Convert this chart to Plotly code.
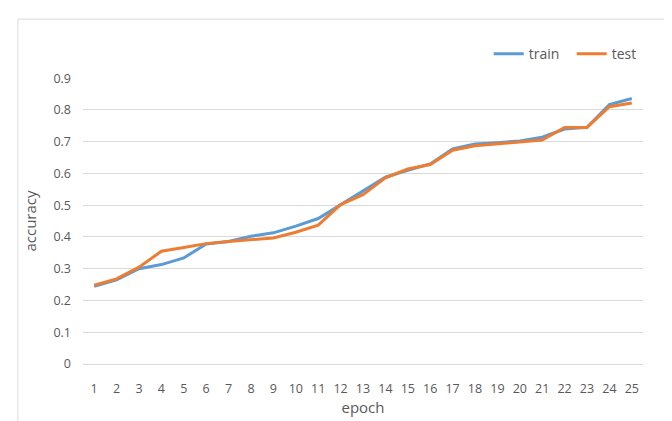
import plotly.graph_objects as go

epochs = [str(i) for i in range(1, 26)]
train = [0.245, 0.265, 0.300, 0.313, 0.334, 0.378, 0.386, 0.402, 0.413, 0.434,
         0.458, 0.502, 0.544, 0.588, 0.610, 0.630, 0.677, 0.693, 0.697, 0.702,
         0.714, 0.740, 0.745, 0.817, 0.836]
test = [0.248, 0.268, 0.305, 0.355, 0.367, 0.379, 0.386, 0.392, 0.397, 0.415,
        0.437, 0.502, 0.533, 0.586, 0.614, 0.628, 0.673, 0.687, 0.693, 0.700,
        0.705, 0.745, 0.745, 0.810, 0.822]
y_ticks = [0, 0.1, 0.2, 0.3, 0.4, 0.5, 0.6, 0.7, 0.8, 0.9]
y_tick_labels = ["0", "0.1", "0.2", "0.3", "0.4", "0.5", "0.6", "0.7", "0.8", "0.9"]

FONT = "Open Sans, Noto Sans, sans-serif"
GRAY = "#595959"
GRID = "#D9D9D9"

fig = go.Figure()
fig.add_trace(go.Scatter(x=epochs, y=train, mode="lines", name="train",
                         line=dict(color="#5B9BD5", width=3)))
fig.add_trace(go.Scatter(x=epochs, y=test, mode="lines", name="test",
                         line=dict(color="#ED7D31", width=3)))

fig.update_layout(
    width=672, height=421,
    margin=dict(l=75, r=37, t=70, b=65, autoexpand=False),
    paper_bgcolor="white", plot_bgcolor="white",
    font=dict(family=FONT, size=12.5, color=GRAY),
    showlegend=True,
    legend=dict(orientation="h", x=0.7245, xanchor="left", y=1.083, yanchor="middle",
                font=dict(size=14, color=GRAY), itemwidth=30,
                entrywidth=38, entrywidthmode="pixels",
                bgcolor="rgba(0,0,0,0)", traceorder="normal"),
    xaxis=dict(type="category", range=[-0.5, 24.5], showgrid=False,
               showline=True, linecolor=GRID, linewidth=1, ticks="",
               ticklabelstandoff=13, zeroline=False,
               title=dict(text="epoch", font=dict(size=15, color=GRAY), standoff=6),
               tickfont=dict(size=12.5, color=GRAY)),
    yaxis=dict(range=[0, 0.9005], tickvals=y_ticks, ticktext=y_tick_labels,
               showgrid=True, gridcolor=GRID, gridwidth=1, zeroline=False,
               ticks="", ticklabelstandoff=11,
               title=dict(text="accuracy", font=dict(size=15, color=GRAY), standoff=13),
               tickfont=dict(size=12.5, color=GRAY)),
    shapes=[dict(type="rect", xref="paper", yref="paper",
                 x0=-0.1163, x1=1.0483, y0=-0.26, y1=1.206,
                 line=dict(color=GRID, width=1), fillcolor="rgba(0,0,0,0)",
                 layer="below")],
)

fig.write_html("out.html")
